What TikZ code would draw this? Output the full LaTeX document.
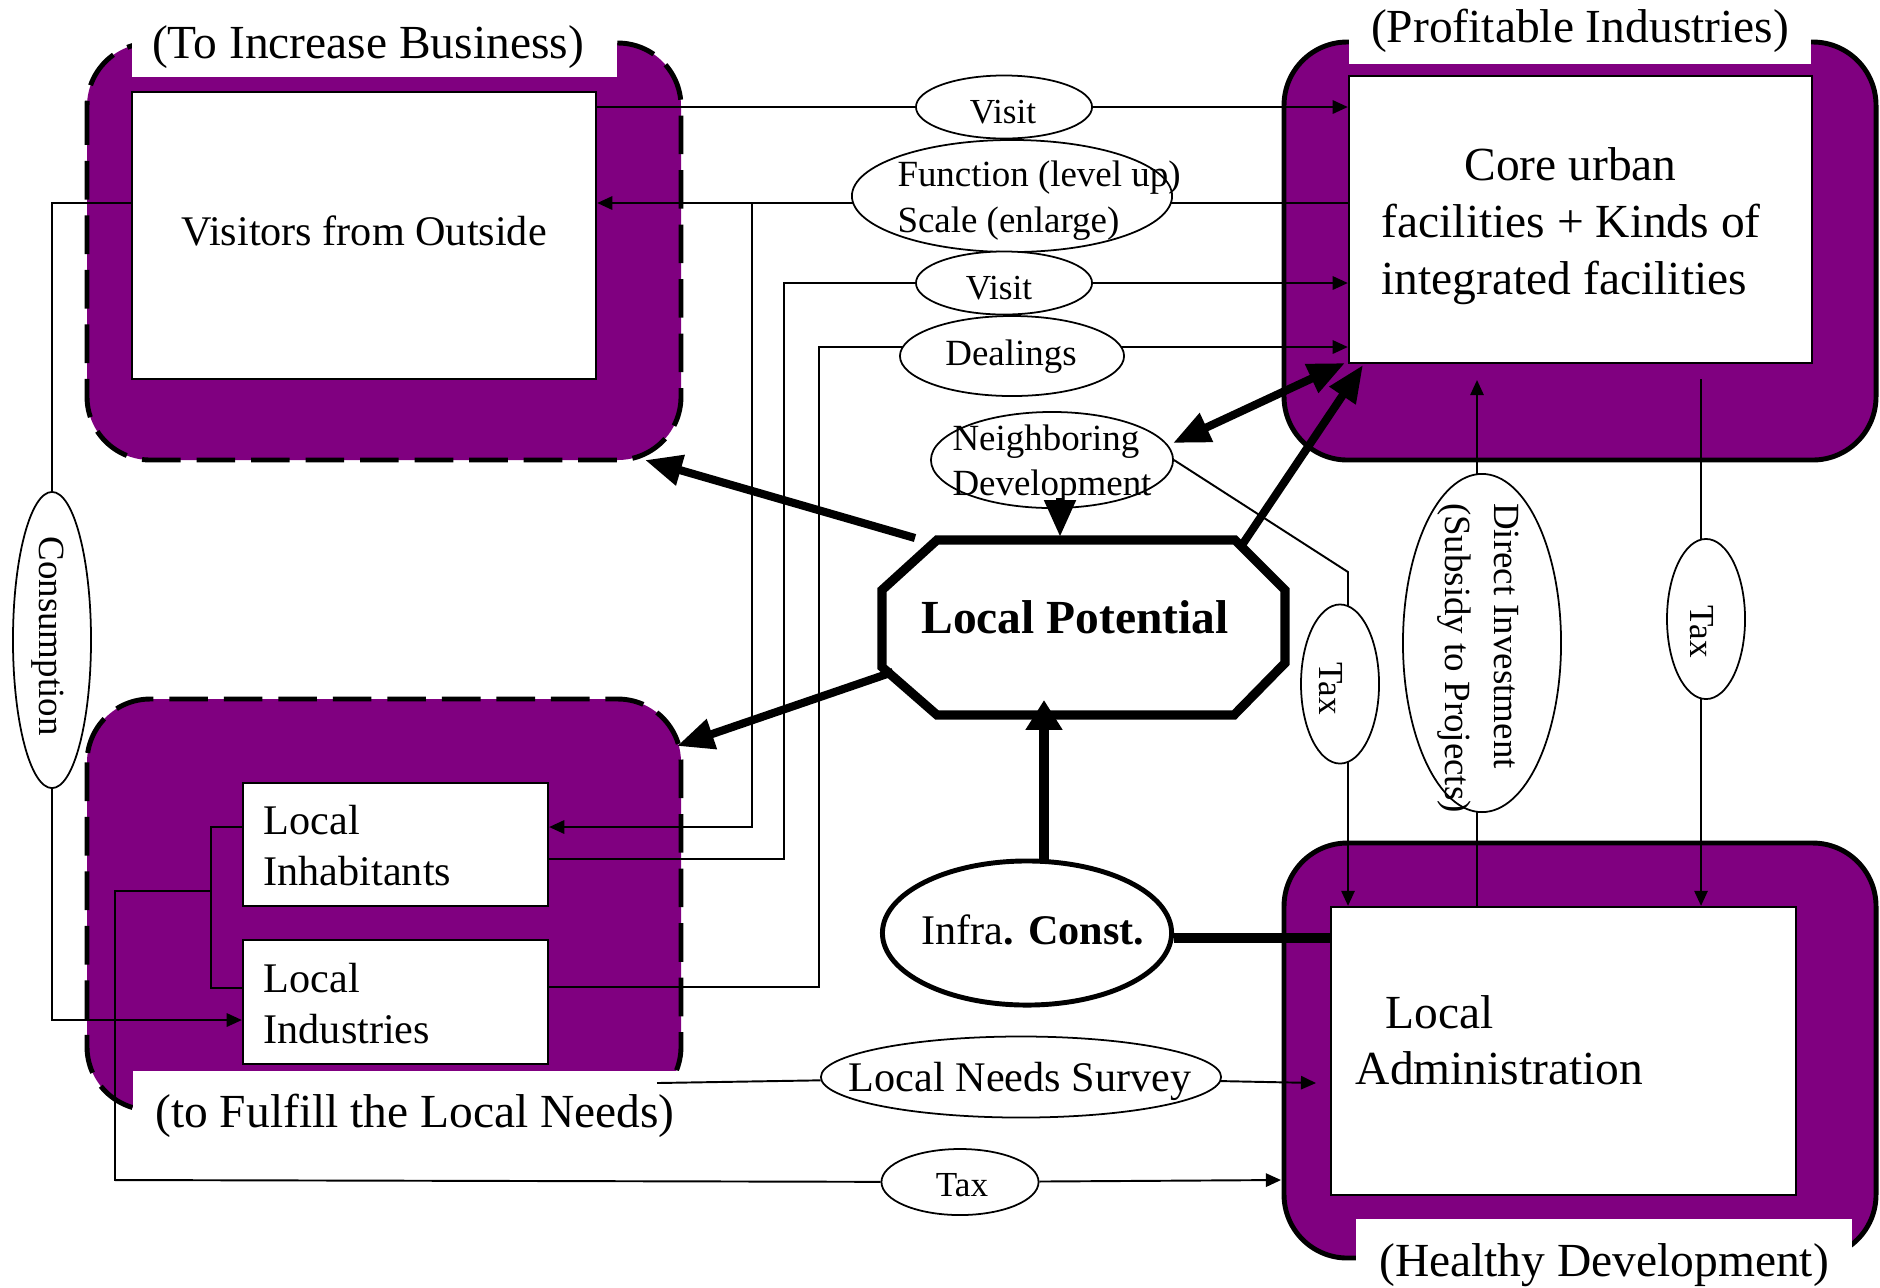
\documentclass[tikz,border=0pt]{standalone}
\usepackage{fontspec}
\setmainfont{Liberation Serif}
\usetikzlibrary{shapes.geometric, arrows.meta}
\definecolor{purp}{RGB}{128,0,128}
\pgfdeclarelayer{back}
\pgfdeclarelayer{mid}
\pgfsetlayers{back,mid,main}
\begin{document}
\begin{tikzpicture}[x=0.01cm,y=-0.01cm,
  grpframe/.style={fill=purp, rounded corners=18pt},
  dashframe/.style={grpframe, draw=black, line width=1.4pt, dash pattern=on 11pt off 4.5pt},
  solidframe/.style={grpframe, draw=black, line width=1.4pt},
  ibox/.style={draw=black, fill=white, line width=0.6pt, rectangle, inner sep=0pt},
  ell/.style={ellipse, draw=black, fill=white, line width=0.5pt, inner sep=0pt},
  t12/.style={font=\fontsize{12}{14.5}\selectfont},
  t135/.style={font=\fontsize{13.5}{16.2}\selectfont},
  t105/.style={font=\fontsize{10.5}{13}\selectfont},
  t10/.style={font=\fontsize{10}{12}\selectfont},
  conn/.style={line width=0.55pt},
  arr/.style={-{Triangle[length=4.3pt,width=3.8pt]}},
  tarr/.style={line width=2.3pt, -{Triangle[length=10.5pt,width=8.5pt]}},
  tarrboth/.style={line width=2.3pt, {Triangle[length=10.5pt,width=8.5pt]}-{Triangle[length=10.5pt,width=8.5pt]}},
  uparr/.style={line width=3.1pt, -{Triangle[length=8.5pt,width=10pt]}}
]
\useasboundingbox (0,0) rectangle (1880,1287);

% ---------- group frames ----------
\begin{pgfonlayer}{back}
\draw[dashframe] (87,43) rectangle (681,460);
\fill[white] (132,12) rectangle (617,77);
\draw[solidframe] (1284,42) rectangle (1876,460);
\fill[white] (1349,8) rectangle (1811,64);
\draw[dashframe] (87,699) rectangle (681,1110);
\fill[white] (133,1071) rectangle (692,1150);
\draw[solidframe] (1284,843) rectangle (1876,1258);
\fill[white] (1356,1219) rectangle (1852,1287);
\end{pgfonlayer}

% ---------- group labels ----------
\node[t135] (lblTL) at (368,47) {(To Increase Business)};
\node[t135] (lblTR) at (1580,31) {(Profitable Industries)};
\node[t135] (lblBL) at (415,1116) {(to Fulfill the Local Needs)};
\node[t135] (lblBR) at (1604,1265) {(Healthy Development)};

% ---------- inner boxes ----------
\node[ibox, minimum width=4.64cm, minimum height=2.87cm] (vis) at (364,235.5) {};
\node[t12] (vistxt) at (364,231) {Visitors from Outside};
\node[ibox, minimum width=4.63cm, minimum height=2.87cm] (core) at (1580.5,219.5) {};
\node[t135, align=left, anchor=west, inner sep=0pt] (coretxt) at (1381,226) {\hspace*{23.5pt}Core urban\\facilities + Kinds of\\integrated facilities};
\node[ibox, minimum width=3.05cm, minimum height=1.23cm] (inh) at (395.5,844.5) {};
\node[t12, align=left, anchor=west, inner sep=0pt] (inhtxt) at (263,846) {Local\\Inhabitants};
\node[ibox, minimum width=3.05cm, minimum height=1.24cm] (ind) at (395.5,1002) {};
\node[t12, align=left, anchor=west, inner sep=0pt] (indtxt) at (263,1004) {Local\\Industries};
\node[ibox, minimum width=4.65cm, minimum height=2.88cm] (adm) at (1563.5,1051) {};
\node[font=\fontsize{13.5}{16}\selectfont, align=left, anchor=west, inner sep=0pt] (admtxt) at (1355,1040) {\hspace*{8.5pt}Local\\Administration};

% ---------- ellipses ----------
\node[ell, minimum width=1.76cm, minimum height=0.63cm] (v1) at (1004,107) {};
\node[t10] (v1txt) at (1003,112) {Visit};
\node[ell, minimum width=3.20cm, minimum height=1.12cm] (fn) at (1012,196) {};
\node[t105, align=left] (fntxt) at (1039,201) {Function (level up)\\Scale (enlarge)};
\node[ell, minimum width=1.76cm, minimum height=0.63cm] (v2) at (1004,283) {};
\node[t10] (v2txt) at (999,288) {Visit};
\node[ell, minimum width=2.24cm, minimum height=0.80cm] (dl) at (1012,356) {};
\node[t105] (dltxt) at (1011,357) {Dealings};
\node[ell, minimum width=2.42cm, minimum height=0.96cm] (nb) at (1052,460) {};
\node[font=\fontsize{10.5}{12.8}\selectfont, align=left] (nbtxt) at (1052,464) {Neighboring\\Development};
\node[ell, minimum width=0.78cm, minimum height=2.96cm] (cons) at (52,640) {};
\node[t105, rotate=-90] (constxt) at (48,636) {Consumption};
\node[ell, minimum width=0.78cm, minimum height=1.59cm] (tax1) at (1340,684) {};
\node[t10, rotate=-90] (tax1txt) at (1331,689) {Tax};
\node[ell, minimum width=1.58cm, minimum height=3.38cm] (di) at (1482,643) {};
\node[font=\fontsize{10.5}{14}\selectfont, rotate=-90, align=left] (ditxt) at (1478,658) {Direct Investment\\(Subsidy to Projects)};
\node[ell, minimum width=0.78cm, minimum height=1.60cm] (tax2) at (1706,619) {};
\node[t10, rotate=-90] (tax2txt) at (1702,632) {Tax};
\node[ell, line width=1.4pt, minimum width=2.89cm, minimum height=1.44cm] (infra) at (1027,933) {};
\node[t12] (infratxt) at (1033,930) {Infra\textbf{. Const.}};
\node[ell, minimum width=4.00cm, minimum height=0.81cm] (lns) at (1021,1077) {};
\node[t12] (lnstxt) at (1020,1081) {Local Needs Survey};
\node[ell, minimum width=1.57cm, minimum height=0.66cm] (tax3) at (960,1182) {};
\node[t10] (tax3txt) at (962,1185) {Tax};

% ---------- thin connectors ----------
\begin{pgfonlayer}{mid}
\coordinate (fj) at (752,203);
\coordinate (brk) at (211,891);
\coordinate (taxend) at (1281,1180);
\coordinate (lnsstart) at (657,1083);
\coordinate (lnsend) at (1316,1083);
\coordinate (diTip) at (1477,380);
\coordinate (tax2top) at (1701,379);
\coordinate (nbbend) at (1348,572);
\draw[conn,arr] (vis.east |- v1) -- (core.west |- v1);
\draw[conn,arr] (core.west |- fj) -- (vis.east |- fj);
\draw[conn,arr] (fj) -- (752,827) -- (inh.east |- 0,827);
\draw[conn,arr] (inh.east |- 0,859) -- (784,859) -- (784,283) -- (core.west |- v2);
\draw[conn,arr] (ind.east |- 0,987) -- (819,987) -- (819,347) -- (core.west |- 0,347);
\draw[conn] (vis.west |- fj) -- (52,203) -- (cons.north);
\draw[conn,arr] (cons.south) -- (52,1020) -- (ind.west |- 0,1020);
\draw[conn] (inh.west |- 0,827) -- (211,827) -- (211,988) -- (ind.west |- 0,988);
\draw[conn,arr] (brk) -- (115,891) -- (115,1180) -- (tax3) -- (taxend);
\draw[conn,arr] (lnsstart) -- (lns) -- (lnsend);
\draw[conn,arr] (nb.east) -- (nbbend) -- (adm.north -| nbbend);
\draw[conn,arr] (adm.north -| diTip) -- (diTip);
\draw[conn,arr] (tax2top) -- (adm.north -| tax2top);
\end{pgfonlayer}

% ---------- Local Potential ----------
\draw[line width=2.6pt, fill=white, line join=miter]
  (937,540) -- (1235,540) -- (1285,590) -- (1285,663) -- (1234,715) -- (937,715) -- (882,667) -- (882,590) -- cycle;
\node[t135] (lp) at (1075,617) {\textbf{Local Potential}};

% ---------- thick arrows ----------
\coordinate (lpA) at (915,538);
\coordinate (tlTip) at (645,460);
\coordinate (lpB) at (893,672);
\coordinate (blTip) at (677,746);
\coordinate (lpC) at (1240,548);
\coordinate (trTip) at (1363,365);
\coordinate (nbTip) at (1173,443);
\coordinate (trTip2) at (1345,363);
\coordinate (nbS) at (1060,498);
\coordinate (lpTop) at (1060,537);
\coordinate (infraTop) at (1044,862);
\coordinate (lpBot) at (1044,700);
\draw[tarr] (lpA) -- (tlTip);
\draw[tarr] (lpB) -- (blTip);
\draw[tarr] (lpC) -- (trTip);
\draw[tarrboth] (nbTip) -- (trTip2);
\draw[tarr] (nbS) -- (lpTop);
\draw[uparr] (infraTop) -- (lpBot);
\draw[line width=2.8pt] (infra.east |- 0,938) -- (adm.west |- 0,938);
\end{tikzpicture}
\end{document}
